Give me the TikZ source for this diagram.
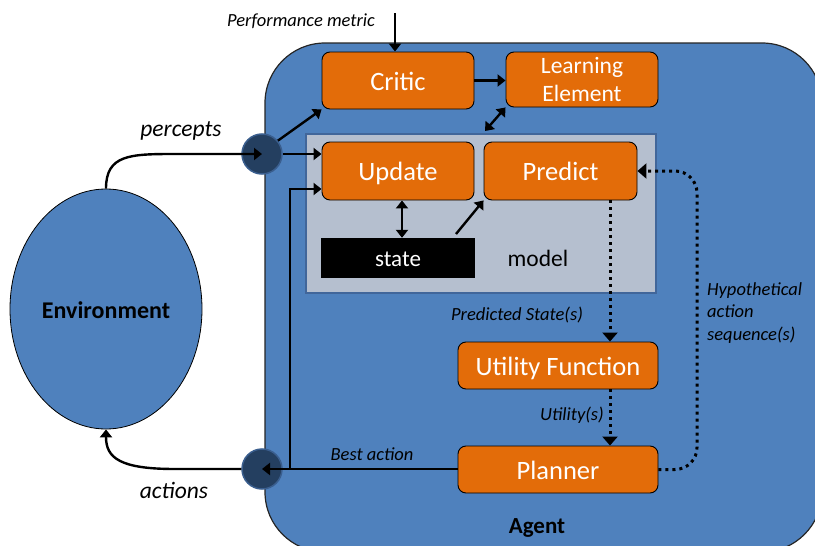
\documentclass[tikz,border=0pt]{standalone}
\usepackage{fontspec}
\setmainfont{Carlito}
\usetikzlibrary{arrows.meta,shapes.geometric,calc}
\definecolor{agentblue}{HTML}{4F81BD}
\definecolor{boxorange}{HTML}{E36C09}
\definecolor{modelgray}{HTML}{B5BFCF}
\definecolor{modeledge}{HTML}{41669A}
\definecolor{portnavy}{HTML}{243F60}
\definecolor{portedge}{HTML}{3A5E8E}
\tikzset{
  fs/.style={font=\fontsize{#1}{#1}\selectfont},
  fsit/.style={font=\itshape\fontsize{#1}{#1}\selectfont},
  fsbf/.style={font=\bfseries\fontsize{#1}{#1}\selectfont},
  agentbox/.style={draw=black!85, line width=1.2pt, fill=agentblue, rounded corners=60pt, inner sep=0},
  modelbox/.style={draw=modeledge, line width=1.5pt, fill=modelgray, inner sep=0},
  unit/.style={draw=black, line width=0.9pt, fill=boxorange, rounded corners=8pt, text=white, fs=26.5, inner sep=0, align=center},
  oneline/.style={text height=19pt, text depth=0pt},
  port/.style={circle, draw=portedge, line width=1.5pt, fill=portnavy, minimum size=40pt, inner sep=0},
  envnode/.style={ellipse, draw=black, line width=0.8pt, fill=agentblue, minimum width=192pt, minimum height=240pt, inner sep=0, fsbf=24, text height=18pt, text depth=0pt},
  lab/.style={fsit=18.5, inner sep=0},
  arr/.style={line width=2.4pt, -{Triangle[length=8pt,width=12pt]}},
  darr/.style={line width=2.4pt, {Triangle[length=8pt,width=12pt]}-{Triangle[length=8pt,width=12pt]}},
  dotarr/.style={line width=3pt, dash pattern=on 3pt off 4pt, -{Triangle[length=9pt,width=15pt]}},
}
\begin{document}
\begin{tikzpicture}[x=1pt,y=-1pt]
\useasboundingbox (0,0) rectangle (815,546);
\fill[white] (0,0) rectangle (815,546);

% agent body and model area
\node[agentbox, minimum width=557pt, minimum height=509pt] (agent) at (543.5,297.5) {};
\node[modelbox, minimum width=350pt, minimum height=159pt] (model) at (481,213.5) {};

% environment and ports
\node[envnode] (env) at (106,309) {Environment};
\node[port] (perc) at (262,154) {};
\node[port] (act) at (262,469) {};

% agent units
\node[unit, oneline, minimum width=152pt, minimum height=57pt] (critic) at (398,80.5) {Critic};
\node[unit, minimum width=152pt, minimum height=55pt, fs=23.5] (learn) at (582,79.5) {Learning\\[5pt]Element};
\node[unit, oneline, minimum width=152pt, minimum height=58pt] (update) at (398,171) {Update};
\node[unit, oneline, minimum width=153pt, minimum height=58pt] (predict) at (560.5,171) {Predict};
\node[fill=black, text=white, minimum width=154pt, minimum height=40pt, inner sep=0, fs=23, text height=16pt, text depth=0pt] (state) at (398,258) {state};
\node[fs=23.5, inner sep=0] (modeltxt) at (538,258) {model};
\node[unit, oneline, minimum width=200pt, minimum height=47pt] (utility) at (558,365.5) {Utility Function};
\node[unit, oneline, minimum width=200pt, minimum height=47pt] (planner) at (558,469.5) {Planner};

% labels
\node[lab] (pmtxt) at (301,21) {Performance metric};
\node[lab, fsit=23.5] (perctxt) at (181,131) {percepts};
\node[lab, fsit=23.5] (acttxt) at (174,490) {actions};
\node[lab] (predtxt) at (517,315) {Predicted State(s)};
\node[lab] (utiltxt) at (572,415) {Utility(s)};
\node[lab] (besttxt) at (372,454) {Best action};
\node[lab, align=left, anchor=west] (hyptxt) at (707,313) {Hypothetical\\[4pt]action\\[4pt]sequence(s)};
\node[fsbf=23, inner sep=0] (agenttxt) at (537,528) {Agent};

% helper coordinates
\coordinate (pmtop) at (395,13);
\coordinate (mtop) at (485,131);
\coordinate (fb) at (290,469);
\coordinate (fbtop) at (290,189);
\coordinate (stout) at (456,234);
\coordinate (pcol) at (610,0);
\coordinate (hcol) at (697,0);

% solid connectors
\draw[arr] (pmtop) -- (pmtop |- critic.north);
\draw[arr] (critic.east) -- (learn.west |- critic.east);
\draw[darr] (mtop) -- (learn.south west);
\draw[arr] (perc.40) -- (critic.south west);
\draw[arr] (perc.east) -- (update.west |- perc.east);
\draw[arr] (env.north) .. controls ($(env.north)+(0,-34)$) and (130,154) .. (175,154) -- (perc.center);
\draw[arr] (act.west) -- (175,469) .. controls (120,469) and (106,458) .. (env.south);
\draw[arr] (planner.west |- act) -- (act.center);
\draw[arr] (fb) -- (fbtop) -- (update.west |- fbtop);
\draw[darr] ([xshift=4pt]update.south) -- ([xshift=4pt]state.north);
\draw[arr] (stout) -- (predict.south west);

% dotted connectors
\draw[dotarr] (pcol |- predict.south) -- (pcol |- utility.north);
\draw[dotarr] (pcol |- utility.south) -- (pcol |- planner.north);
\draw[dotarr, rounded corners=22pt] (planner.east) -- (hcol |- planner.east) -- (hcol |- predict.east) -- (predict.east);
\end{tikzpicture}
\end{document}
